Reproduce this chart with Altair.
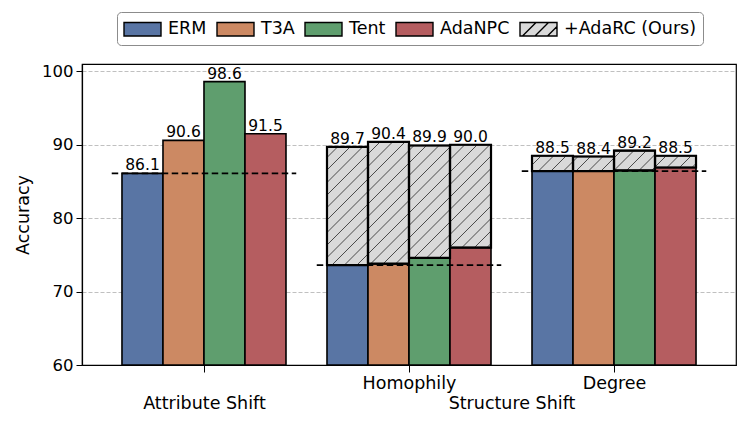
import altair as alt
import pandas as pd
import math

# ---------------- data ----------------
groups = ["Attribute Shift", "Homophily", "Degree"]
super_group = "Structure Shift"          # spans Homophily & Degree
methods = ["ERM", "T3A", "Tent", "AdaNPC"]
ours = "+AdaRC (Ours)"

base_attribute = [86.1, 90.6, 98.6, 91.5]
base_homophily = [73.6, 73.8, 74.6, 76.0]
base_degree = [86.4, 86.4, 86.5, 86.9]
adarc_homophily = [89.7, 90.4, 89.9, 90.0]
adarc_degree = [88.5, 88.4, 89.2, 88.5]

y_ticks = [60, 70, 80, 90, 100]

# ---------------- styling constants ----------------
colors = ["#5975a4", "#cc8963", "#5f9e6e", "#b55d60", "#d9d9d9"]
FONT = "DejaVu Sans"
W, H = 654, 301
XMIN, XMAX = -0.595, 2.595
YMIN, YMAX = 60, 101
BAR_W = 0.2
HATCH_STEP = 12.5  # px

base_by_group = [base_attribute, base_homophily, base_degree]
ours_by_group = [None, adarc_homophily, adarc_degree]

bar_rows, hatch_rows, text_rows, ref_rows = [], [], [], []
for gi, g in enumerate(groups):
    for mi, m in enumerate(methods):
        xc = gi + (mi - 1.5) * BAR_W
        b = base_by_group[gi][mi]
        bar_rows.append(dict(method=m, x0=xc - BAR_W / 2, x1=xc + BAR_W / 2, y0=YMIN, y1=b))
        top = b
        if ours_by_group[gi] is not None:
            t = ours_by_group[gi][mi]
            hatch_rows.append(dict(method=ours, x0=xc - BAR_W / 2, x1=xc + BAR_W / 2, y0=b, y1=t))
            top = t
        text_rows.append(dict(xc=xc, top=top, label=f"{top:.1f}"))
    ref_rows.append(dict(x0=gi - 0.45, x1=gi + 0.45, y=base_by_group[gi][0]))

bars_df = pd.DataFrame(bar_rows)
hatch_df = pd.DataFrame(hatch_rows)
text_df = pd.DataFrame(text_rows)
ref_df = pd.DataFrame(ref_rows)

# hatch line segments (45 deg in pixel space), clipped to each hatched bar
sx = W / (XMAX - XMIN)
sy = H / (YMAX - YMIN)
seg_rows = []
for r in hatch_rows:
    X0, X1 = (r["x0"] - XMIN) * sx, (r["x1"] - XMIN) * sx
    Yb, Yt = (r["y0"] - YMIN) * sy, (r["y1"] - YMIN) * sy
    kmin = math.floor((Yb - X1) / HATCH_STEP) - 1
    kmax = math.ceil((Yt - X0) / HATCH_STEP) + 1
    for k in range(kmin, kmax + 1):
        c = k * HATCH_STEP
        xs = max(X0, Yb - c)
        xe = min(X1, Yt - c)
        if xe - xs > 0.5:
            seg_rows.append(dict(
                hx0=xs / sx + XMIN, hx1=xe / sx + XMIN,
                hy0=(xs + c) / sy + YMIN, hy1=(xe + c) / sy + YMIN))
seg_df = pd.DataFrame(seg_rows)

series = methods + [ours]
legend_df = pd.DataFrame(dict(method=series))

# legend patch shapes (symbol unit = 10px with symbolSize 400)
rect_path = "M-1.85,-0.675L1.85,-0.675L1.85,0.675L-1.85,0.675Z"
hatch_path = rect_path + " M-1.6,0.675L-0.25,-0.675 M-0.35,0.675L1.0,-0.675 M0.9,0.675L1.85,-0.275"
shapes = [rect_path] * 4 + [hatch_path]

# ---------------- scales / axes ----------------
xscale = alt.Scale(domain=[XMIN, XMAX], nice=False, zero=False)
yscale = alt.Scale(domain=[YMIN, YMAX], nice=False, zero=False)
fill_scale = alt.Scale(domain=series, range=colors)
shape_scale = alt.Scale(domain=series, range=shapes)

label_expr = (
    f"datum.value == 0 ? ['', '{groups[0]}'] : "
    f"datum.value == 1 ? '{groups[1]}' : "
    f"datum.value == 2 ? '{groups[2]}' : ['', '{super_group}']"
)

xaxis = alt.Axis(
    values=[0, 1, 1.5, 2], title=None, labelExpr=label_expr,
    tickSize=7, tickColor="black", tickWidth=1,
    tickOpacity={"condition": {"test": "datum.value == 1.5", "value": 0}, "value": 1},
    labelFont=FONT, labelFontSize=17.5, labelColor="black", labelPadding=2,
    labelBaseline="top", labelLineHeight=20, labelOverlap=False, labelFlush=False,
    labelBound=False, domainColor="black", domainWidth=1.2, grid=False,
)
yaxis = alt.Axis(
    values=y_ticks, title="Accuracy", titleFont=FONT, titleFontSize=17.5,
    titleFontWeight="normal", titleColor="black", titlePadding=9,
    tickSize=6, tickColor="black", tickWidth=1,
    labelFont=FONT, labelFontSize=16.5, labelColor="black", labelPadding=3,
    grid=True, gridColor="#b0b0b0", gridDash=[4, 2], gridWidth=0.8,
    domainColor="black", domainWidth=1.2,
)


def X(f):
    return alt.X(f, type="quantitative", scale=xscale, axis=xaxis)


def Y(f):
    return alt.Y(f, type="quantitative", scale=yscale, axis=yaxis)


def FILL():
    return alt.Fill("method:N", scale=fill_scale, legend=alt.Legend(title=None))


bars = alt.Chart(bars_df).mark_bar(stroke="black", strokeWidth=1.6).encode(
    x=X("x0"), x2="x1", y=Y("y1"), y2="y0", fill=FILL(),
)

hatch_fill = alt.Chart(hatch_df).mark_bar(stroke="black", strokeWidth=1.6).encode(
    x=X("x0"), x2="x1", y=Y("y1"), y2="y0", fill=FILL(),
)

hatch_lines = alt.Chart(seg_df).mark_rule(stroke="#4a4a4a", strokeWidth=1).encode(
    x=X("hx0"), x2="hx1", y=Y("hy0"), y2="hy1",
)

hatch_outline = alt.Chart(hatch_df).mark_bar(
    fill="white", fillOpacity=0, stroke="black", strokeWidth=2.2
).encode(x=X("x0"), x2="x1", y=Y("y1"), y2="y0")

ref_lines = alt.Chart(ref_df).mark_rule(
    stroke="black", strokeWidth=1.8, strokeDash=[6.5, 3.5]
).encode(x=X("x0"), x2="x1", y=Y("y"))

labels = alt.Chart(text_df).mark_text(
    baseline="alphabetic", dy=-3, font=FONT, fontSize=15.5, color="black"
).encode(x=X("xc"), y=Y("top"), text="label:N")

legend_layer = alt.Chart(legend_df).mark_point(
    filled=True, size=0, stroke="black", strokeWidth=1.4
).encode(
    fill=FILL(),
    shape=alt.Shape("method:N", scale=shape_scale, legend=alt.Legend(title=None)),
)

chart = alt.layer(
    bars, hatch_fill, hatch_lines, hatch_outline, ref_lines, labels, legend_layer
).properties(
    width=W, height=H,
    autosize=alt.AutoSizeParams(type="none"),
    padding={"left": 74, "top": 56, "right": 4, "bottom": 47},
).configure_view(
    stroke="black", strokeWidth=1.2
).configure_legend(
    orient="none", legendX=35, legendY=-52, direction="horizontal",
    labelFont=FONT, labelFontSize=17.5, labelColor="black", labelLimit=400,
    symbolSize=400, symbolOpacity=1, symbolStrokeWidth=1.4,
    symbolOffset=8.5, labelOffset=14.5, columnPadding=7, padding=6,
    strokeColor="#8c8c8c", fillColor="white", cornerRadius=4,
)

chart.save("out.html", embed_options={"renderer": "svg", "actions": False})
